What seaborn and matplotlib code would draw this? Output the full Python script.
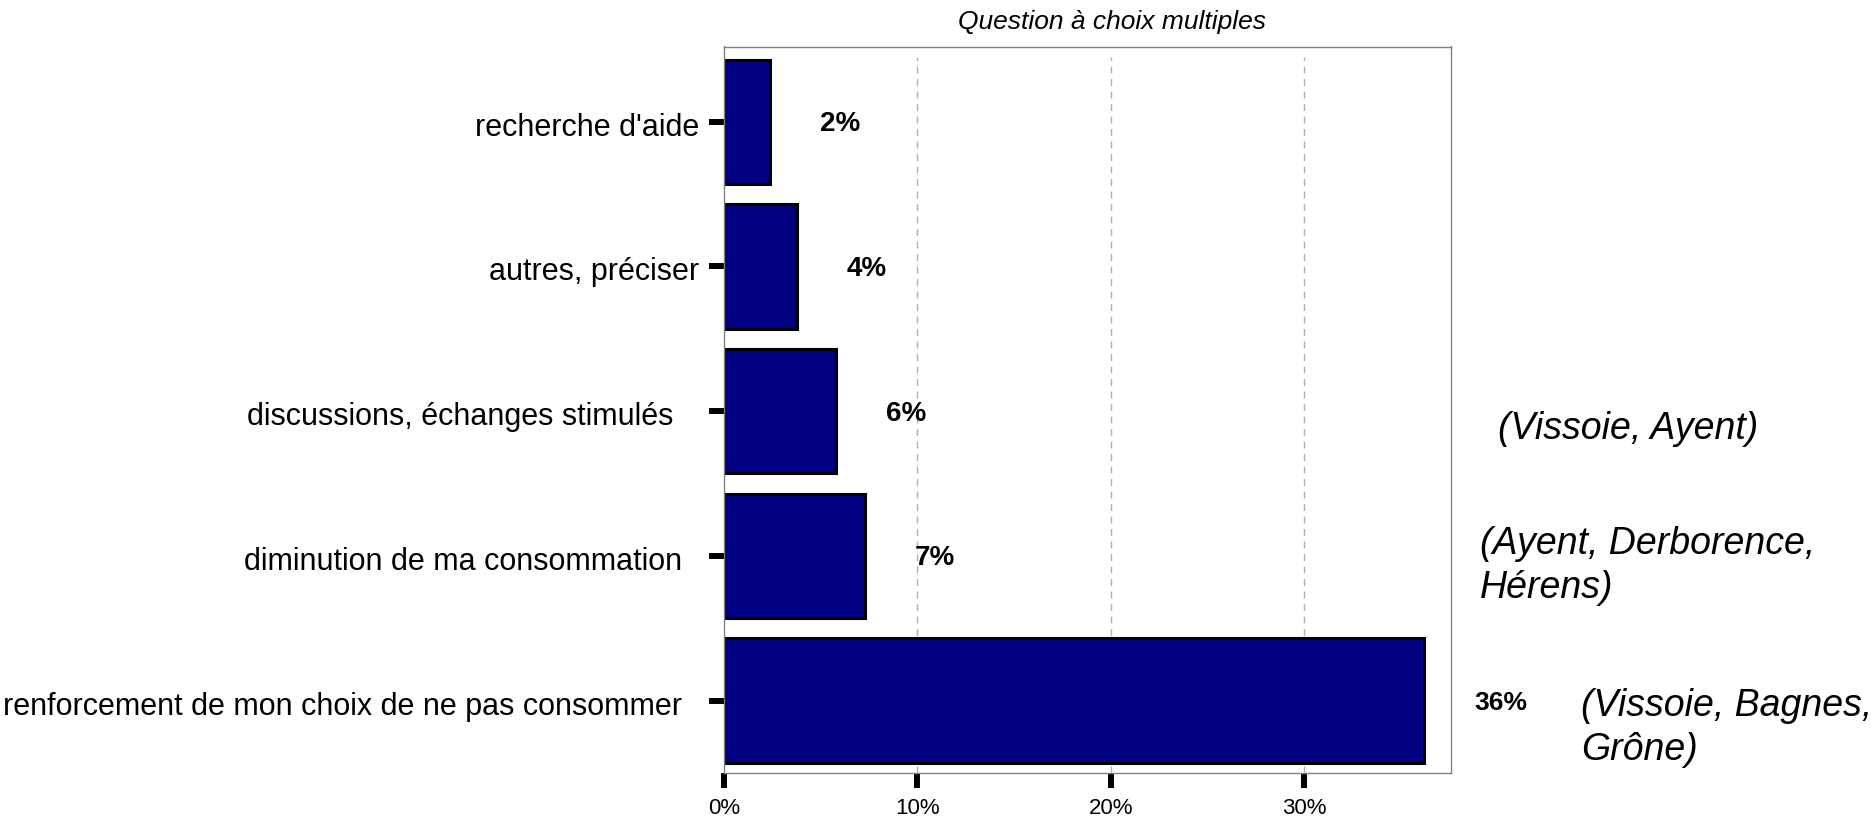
import matplotlib
matplotlib.use("Agg")
import matplotlib.pyplot as plt
import matplotlib.transforms as mtransforms
import seaborn as sns
import pandas as pd

categories = ["recherche d'aide", "autres, préciser", "discussions, échanges stimulés   ",
              "diminution de ma consommation  ", "renforcement de mon choix de ne pas consommer  "]
values = [2.4, 3.8, 5.8, 7.3, 36.2]
value_labels = ["2%", "4%", "6%", "7%", "36%"]
xticks = [0, 10, 20, 30]
xtick_labels = ["0%", "10%", "20%", "30%"]
title = "Question à choix multiples"
notes = ["(Vissoie, Ayent)", "(Ayent, Derborence,\nHérens)", "(Vissoie, Bagnes,\nGrône)"]

sns.set_style("white")
plt.rcParams['font.family'] = ['Liberation Sans', 'DejaVu Sans']
plt.rcParams['text.color'] = 'black'
plt.rcParams['xtick.color'] = 'black'
plt.rcParams['ytick.color'] = 'black'

W, H = 1871, 818
fig = plt.figure(figsize=(W / 100, H / 100), dpi=100)
ax = fig.add_axes([724 / W, 1 - 773 / H, (1451 - 724) / W, (773 - 46.5) / H])

df = pd.DataFrame({"cat": categories, "val": values})
sns.barplot(data=df, x="val", y="cat", orient="h", color="#000080", saturation=1,
            edgecolor="black", linewidth=2.2, width=0.86, ax=ax)

ax.set_xlim(0, 37.6)
ax.set_ylim(4.5, -0.52)
for t in xticks[1:]:
    ax.axvline(t, ymin=0, ymax=0.985, color="#b0b0b0", linestyle=(0, (5, 4)), linewidth=1, zorder=0)

ax.set_xticks(xticks)
ax.set_xticklabels(xtick_labels, fontsize=16)
ax.tick_params(axis="x", length=11, width=4.3, color="black", pad=7, direction="out", bottom=True)
ax.tick_params(axis="y", length=11, width=4.3, color="black", pad=7, direction="out", left=True, labelsize=22)
ax.set_xlabel("")
ax.set_ylabel("")
for s in ax.spines.values():
    s.set_color("#808080")
    s.set_linewidth(1)

shift = mtransforms.ScaledTranslation(0, -2.5 / 100, fig.dpi_scale_trans)
for lbl in ax.get_yticklabels():
    lbl.set_transform(lbl.get_transform() + shift)

for i, (v, lab) in enumerate(zip(values, value_labels)):
    fs = 19 if i == 4 else 20
    off = 4.0 if i == 4 else 3.6
    ax.text(v + off, i, lab, ha="center", va="center", fontsize=fs, fontweight="bold",
            transform=ax.transData + shift)

fig.text(1111.5 / W, 1 - 21.5 / H, title, ha="center", va="center", fontsize=19, style="italic")

note_pos = [(1498, 429), (1480, 566), (1581, 728)]
for (x, y), n in zip(note_pos, notes):
    fig.text(x / W, 1 - y / H, n, ha="left", va="center", fontsize=27, style="italic", linespacing=1.27)

fig.savefig("out.png", dpi=100)
